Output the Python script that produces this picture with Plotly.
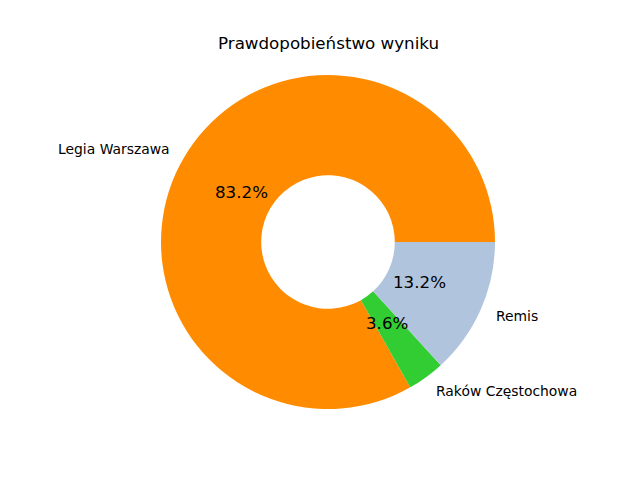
import math
import plotly.graph_objects as go

labels = ["Legia Warszawa", "Raków Częstochowa", "Remis"]
values = [83.2, 3.6, 13.2]
colors = ["#FF8C00", "#32CD32", "#B0C4DE"]
title = "Prawdopobieństwo wyniku"

W, H = 640, 480
cx, cy, R = 328, 242, 167  # pixel centre/radius of pie

total = sum(values)
first_frac = values[0] / total
# plotly ccw: first slice ends at rotation point; matplotlib starts at 3 o'clock
rotation = (90 - 360 * first_frac) % 360

fig = go.Figure(go.Pie(
    labels=labels, values=values, hole=0.4, sort=False,
    direction="counterclockwise", rotation=rotation,
    marker=dict(colors=colors, line=dict(width=0)),
    textinfo="none", hoverinfo="label+percent", showlegend=False,
    domain=dict(x=[(cx - R) / W, (cx + R) / W], y=[(H - cy - R) / H, (H - cy + R) / H]),
))

start = 0.0
ann = []
for lab, v in zip(labels, values):
    frac = v / total
    mid = math.radians((start + frac / 2) * 360)
    start += frac
    c, s = math.cos(mid), math.sin(mid)
    lx, ly = cx + 1.1 * R * c, cy - 1.1 * R * s
    ann.append(dict(x=lx / W, y=1 - ly / H, xref="paper", yref="paper", text=lab,
                    showarrow=False, xanchor="left" if c > 0 else "right", yanchor="middle",
                    borderpad=0, xshift=2 if c < 0 else -1,
                    font=dict(family="DejaVu Sans", size=13.9, color="black")))
    px, py = cx + 0.6 * R * c, cy - 0.6 * R * s
    ann.append(dict(x=px / W, y=1 - py / H, xref="paper", yref="paper", text=f"{frac*100:.1f}%",
                    showarrow=False, xanchor="center", yanchor="middle", borderpad=0,
                    font=dict(family="DejaVu Sans", size=16.7, color="black")))

ann.append(dict(x=328 / W, y=1 - 43 / H, xref="paper", yref="paper", text=title,
                showarrow=False, xanchor="center", yanchor="middle", borderpad=0,
                font=dict(family="DejaVu Sans", size=16.7, color="black")))

fig.update_layout(width=W, height=H, margin=dict(l=0, r=0, t=0, b=0),
                  paper_bgcolor="white", plot_bgcolor="white", annotations=ann)
fig.write_html("out.html", config={"displayModeBar": False},
               post_script="document.body.style.margin='0';")
